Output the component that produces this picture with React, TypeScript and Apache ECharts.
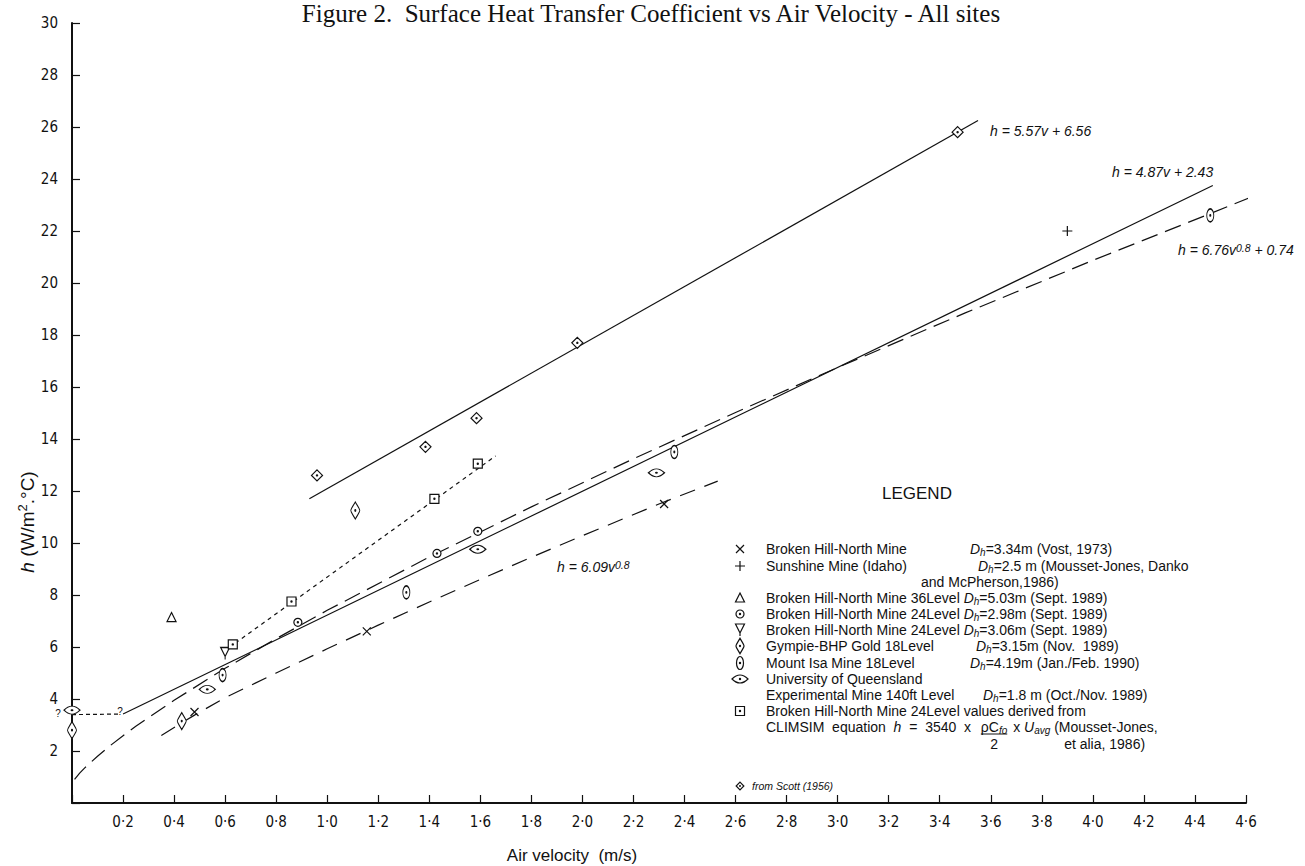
import React, { useEffect, useRef } from "react";
import * as echarts from "echarts";

// ---------------- data ----------------
const X_MIN = 0;
const X_MAX = 4.6;
const X_STEP = 0.2;
const Y_MIN = 0;
const Y_MAX = 30;
const Y_STEP = 2;

// measured points [air velocity m/s, h W/m2.C]
const brokenHillVost = [[0.48, 3.5], [1.155, 6.6], [2.32, 11.5]];
const sunshineMine = [[3.9, 22.0]];
const brokenHill36 = [[0.39, 7.15]];
const brokenHill24a = [[0.885, 6.95], [1.43, 9.6], [1.59, 10.45]];
const brokenHill24b = [[0.6, 5.75]];
const gympie = [[0.0, 2.8], [0.43, 3.15], [1.11, 11.25]];
const mountIsa = [[0.59, 4.92], [1.31, 8.1], [2.36, 13.5], [4.46, 22.6]];
const uqMine = [[0.0, 3.57], [0.53, 4.37], [1.59, 9.76], [2.29, 12.7]];
const climsim = [[0.63, 6.1], [0.86, 7.75], [1.42, 11.7], [1.59, 13.05]];
const scott = [[0.96, 12.6], [1.385, 13.7], [1.585, 14.8], [1.98, 17.7], [3.47, 25.8]];

// fitted lines
const fitScott = [[0.93, 11.7], [3.55, 26.25]]; // h = 5.57v + 6.56
const fitAll = [[0.2, 3.42], [4.47, 23.75]]; // h = 4.87v + 2.43
const powerFitA = [
  [0.01, 0.91], [0.03, 1.15], [0.05, 1.35], [0.1, 1.8], [0.15, 2.21], [0.2, 2.59],
  [0.25, 2.95], [0.3, 3.29], [0.4, 3.95], [0.6, 5.18], [0.8, 6.32], [1.0, 7.41],
  [1.4, 9.46], [1.8, 11.39], [2.2, 13.24], [2.6, 15.02], [3.0, 16.75], [3.5, 18.85],
  [4.0, 20.87], [4.45, 22.63], [4.74, 23.78],
]; // h = 6.76v^0.8 + 0.74
const powerFitB = [
  [0.35, 2.6], [0.48, 3.38], [0.6, 4.05], [0.8, 5.0], [1.0, 5.93], [1.2, 6.84],
  [1.4, 7.73], [1.6, 8.6], [1.8, 9.45], [2.0, 10.28], [2.3, 11.5], [2.53, 12.38],
]; // h = 6.09v^0.8
const climsimFit = [[0.64, 6.15], [1.66, 13.35]];
const lowVelocityLink = [[0.0, 3.4], [0.19, 3.42]];

// ---------------- symbols ----------------
const DOT = "M-0.6,0A0.6,0.6,0,1,0,0.6,0A0.6,0.6,0,1,0,-0.6,0Z";
const SYMBOL_PATHS: Record<string, string> = {
  cross: "M-4,-4L4,4M4,-4L-4,4",
  plus: "M-5,0L5,0M0,-5L0,5",
  triUp: "M0,-5L4.5,4L-4.5,4Z",
  circDot: "M-4,0A4,4,0,1,0,4,0A4,4,0,1,0,-4,0Z" + DOT,
  triDown: "M-4.5,-5L4.5,-5L0,4ZM0,4L0,7",
  gympie:
    "M0,-8.5C2.5,-4,4.5,-1.5,4.5,0C4.5,1.5,2.5,4,0,8.5C-2.5,4,-4.5,1.5,-4.5,0C-4.5,-1.5,-2.5,-4,0,-8.5Z" + DOT,
  isa: "M-3.5,0A3.5,6.5,0,1,0,3.5,0A3.5,6.5,0,1,0,-3.5,0Z" + DOT,
  uq: "M-8,0C-5,-3,-2,-4,0,-4C2,-4,5,-3,8,0C5,3,2,4,0,4C-2,4,-5,3,-8,0Z" + DOT,
  square: "M-4.5,-4.5L4.5,-4.5L4.5,4.5L-4.5,4.5Z" + DOT,
  scott: "M0,-5.5L5.5,0L0,5.5L-5.5,0Z" + DOT,
};
const SYMBOL_SIZES: Record<string, number[]> = {
  cross: [8, 8],
  plus: [10, 10],
  triUp: [9, 9],
  circDot: [8, 8],
  triDown: [9, 12],
  gympie: [9, 17],
  isa: [7, 13],
  uq: [16, 8],
  square: [9, 9],
  scott: [11, 11],
};

let shapesRegistered = false;
function registerShapes() {
  if (shapesRegistered) return;
  Object.keys(SYMBOL_PATHS).forEach((k) => {
    echarts.graphic.registerShape("sym_" + k, echarts.graphic.extendPath(SYMBOL_PATHS[k], {}) as any);
  });
  shapesRegistered = true;
}

// ---------------- fonts ----------------
const SANS = "'Liberation Sans', Arial, sans-serif";
const NARROW = "'Liberation Sans Narrow', 'DejaVu Sans Condensed', 'Liberation Sans', sans-serif";
const SERIF = "'Liberation Serif', 'Times New Roman', serif";
const INK = "#111";

function textWidth(text: string, font: string): number {
  const ctx = document.createElement("canvas").getContext("2d");
  if (!ctx) return text.length * 7;
  ctx.font = font;
  return ctx.measureText(text).width;
}

const RICH = {
  i: { fontFamily: SANS, fontSize: 14, fontStyle: "italic", fill: INK },
  s: { fontFamily: SANS, fontSize: 10, fontStyle: "italic", fill: INK, lineHeight: 6, verticalAlign: "bottom" },
  sup: { fontFamily: SANS, fontSize: 10.5, fontStyle: "italic", fill: INK, lineHeight: 6, verticalAlign: "top" },
};

function txt(x: number, y: number, text: string, extra: any = {}) {
  return {
    type: "text",
    x,
    y,
    silent: true,
    z: 10,
    style: {
      text,
      fill: INK,
      fontFamily: SANS,
      fontSize: 14,
      lineHeight: 16,
      align: "left",
      verticalAlign: "middle",
      rich: RICH,
      ...extra,
    },
  };
}

function sym(kind: string, x: number, y: number, scale = 1) {
  return {
    type: "sym_" + kind,
    x,
    y,
    scaleX: scale,
    scaleY: scale,
    silent: true,
    z: 10,
    style: { fill: "#fff", stroke: INK, lineWidth: 1.2 / scale },
  };
}

function buildGraphic() {
  const g: any[] = [];
  // title
  g.push(
    txt(651, 13, "Figure 2.  Surface Heat Transfer Coefficient vs Air Velocity - All sites", {
      fontFamily: SERIF,
      fontSize: 25,
      align: "center",
      lineHeight: 26,
    })
  );
  // axis names
  g.push({
    type: "text",
    x: 27,
    y: 522,
    rotation: Math.PI / 2,
    silent: true,
    style: {
      text: "{hi|h} (W/m{sp|2}.\u00b0C)",
      fill: INK,
      fontFamily: SANS,
      fontSize: 19,
      lineHeight: 22,
      align: "center",
      verticalAlign: "middle",
      rich: {
        hi: { fontFamily: SANS, fontSize: 19, fontStyle: "italic", fill: INK },
        sp: { fontFamily: SANS, fontSize: 13, fill: INK, lineHeight: 8, verticalAlign: "top" },
      },
    },
  });
  g.push(txt(572, 855, "Air velocity  (m/s)", { fontSize: 17, align: "center" }));

  // fit annotations
  g.push(txt(990, 131, "h = 5.57v + 6.56", { fontStyle: "italic", fontSize: 14 }));
  g.push(txt(1112, 172, "h = 4.87v + 2.43", { fontStyle: "italic", fontSize: 14 }));
  g.push(txt(1178, 250, "h = 6.76v{sup|0.8} + 0.74", { fontStyle: "italic", fontSize: 14 }));
  g.push(txt(557, 567, "h = 6.09v{sup|0.8}", { fontStyle: "italic", fontSize: 14 }));
  // question marks at the low-velocity end
  g.push(txt(58, 713, "?", { fontSize: 10, align: "center" }));
  g.push(txt(120, 711, "?", { fontSize: 10, align: "center" }));

  // legend
  g.push(txt(882, 493, "LEGEND", { fontSize: 17 }));
  const SX = 740;
  const NX = 766;
  const DX = 970;
  const rows = [549, 566, 582, 598, 614, 630, 646, 663, 679, 695, 711, 727, 743];
  const dh = "{i|D}{s|h}";
  g.push(sym("cross", SX, rows[0]));
  g.push(txt(NX, rows[0], "Broken Hill-North Mine"));
  g.push(txt(DX, rows[0], dh + "=3.34m (Vost, 1973)"));
  g.push(sym("plus", SX, rows[1]));
  g.push(txt(NX, rows[1], "Sunshine Mine (Idaho)"));
  g.push(txt(DX + 8, rows[1], dh + "=2.5 m (Mousset-Jones, Danko"));
  g.push(txt(921, rows[2], "and McPherson,1986)"));
  g.push(sym("triUp", SX, rows[3]));
  g.push(txt(NX, rows[3], "Broken Hill-North Mine 36Level " + dh + "=5.03m (Sept. 1989)"));
  g.push(sym("circDot", SX, rows[4]));
  g.push(txt(NX, rows[4], "Broken Hill-North Mine 24Level " + dh + "=2.98m (Sept. 1989)"));
  g.push(sym("triDown", SX, rows[5] - 1));
  g.push(txt(NX, rows[5], "Broken Hill-North Mine 24Level " + dh + "=3.06m (Sept. 1989)"));
  g.push(sym("gympie", SX, rows[6], 0.9));
  g.push(txt(NX, rows[6], "Gympie-BHP Gold 18Level"));
  g.push(txt(DX + 6, rows[6], dh + "=3.15m (Nov.  1989)"));
  g.push(sym("isa", SX, rows[7]));
  g.push(txt(NX, rows[7], "Mount Isa Mine 18Level"));
  g.push(txt(DX, rows[7], dh + "=4.19m (Jan./Feb. 1990)"));
  g.push(sym("uq", SX, rows[8]));
  g.push(txt(NX, rows[8], "University of Queensland"));
  g.push(txt(NX, rows[9], "Experimental Mine 140ft Level"));
  g.push(txt(DX + 13, rows[9], dh + "=1.8 m (Oct./Nov. 1989)"));
  g.push(sym("square", SX, rows[10]));
  g.push(txt(NX, rows[10], "Broken Hill-North Mine 24Level values derived from"));

  // CLIMSIM equation row with a fraction
  const F = "14px " + SANS;
  const FI = "italic 14px " + SANS;
  const F10I = "italic 10px " + SANS;
  const part1 = "CLIMSIM  equation  ";
  const part2 = "  =  3540  x  ";
  const w1 = textWidth(part1, F) + textWidth("h", FI) + textWidth(part2, F);
  g.push(txt(NX, rows[11], part1 + "{i|h}" + part2));
  const xf = NX + w1 + 2;
  const wRC = textWidth("\u03c1C", F);
  const wfo = textWidth("fo", F10I);
  g.push(txt(xf, rows[11], "\u03c1C{s|fo}"));
  g.push({
    type: "line",
    silent: true,
    z: 10,
    shape: { x1: xf, y1: rows[11] + 7, x2: xf + wRC + wfo, y2: rows[11] + 7 },
    style: { stroke: INK, lineWidth: 1 },
  });
  g.push(txt(xf + (wRC + wfo) / 2, rows[11] + 17, "2", { align: "center" }));
  const x3 = xf + wRC + wfo + 2;
  g.push(txt(x3, rows[11], " x {i|U}{s|avg} (Mousset-Jones,"));
  const wPre = textWidth(" x ", F) + textWidth("U", FI) + textWidth("avg", F10I) + textWidth(" ", F);
  g.push(txt(x3 + wPre + 10, rows[12] + 1, "et alia, 1986)"));

  // from Scott note
  g.push(sym("scott", SX, 786, 0.7));
  g.push(txt(752, 786, "from Scott (1956)", { fontStyle: "italic", fontSize: 10.5 }));
  return g;
}

function scatterSeries(name: string, data: number[][], kind: string) {
  return {
    type: "scatter",
    name,
    data,
    symbol: "path://" + SYMBOL_PATHS[kind],
    symbolSize: SYMBOL_SIZES[kind],
    itemStyle: { color: "#fff", borderColor: INK, borderWidth: 1.2, opacity: 1 },
    z: 5,
    silent: true,
    clip: false,
  };
}

function lineSeries(name: string, data: number[][], dash: any) {
  return {
    type: "line",
    name,
    data,
    showSymbol: false,
    symbol: "none",
    smooth: false,
    clip: false,
    z: 3,
    silent: true,
    lineStyle: { color: INK, width: 1.2, type: dash },
  };
}

export default function App() {
  const ref = useRef<HTMLDivElement>(null);
  useEffect(() => {
    if (!ref.current) return;
    registerShapes();
    const chart = echarts.init(ref.current, null, { renderer: "svg" });
    const option: any = {
      animation: false,
      backgroundColor: "#fff",
      grid: { left: 72, right: 59, top: 23, bottom: 63, containLabel: false, outerBoundsMode: "none" },
      xAxis: {
        type: "value",
        min: X_MIN,
        max: X_MAX,
        interval: X_STEP,
        splitLine: { show: false },
        axisLine: { show: true, onZero: false, lineStyle: { color: INK, width: 2 } },
        axisTick: { show: true, inside: true, length: 8, lineStyle: { color: INK, width: 1.2 } },
        axisLabel: {
          margin: 11,
          color: INK,
          fontFamily: NARROW,
          fontSize: 15,
          showMinLabel: true,
          showMaxLabel: true,
          formatter: (v: number) => (Math.abs(v) < 1e-9 ? "" : v.toFixed(1).replace(".", "\u00b7")),
        },
      },
      yAxis: {
        type: "value",
        min: Y_MIN,
        max: Y_MAX,
        interval: Y_STEP,
        splitLine: { show: false },
        axisLine: { show: true, onZero: false, lineStyle: { color: INK, width: 2 } },
        axisTick: { show: true, inside: true, length: 8, lineStyle: { color: INK, width: 1.2 } },
        axisLabel: {
          margin: 14,
          color: INK,
          fontFamily: NARROW,
          fontSize: 15,
          formatter: (v: number) => (v === 0 ? "" : String(v)),
        },
      },
      series: [
        lineSeries("h = 5.57v + 6.56", fitScott, "solid"),
        lineSeries("h = 4.87v + 2.43", fitAll, "solid"),
        lineSeries("h = 6.76v^0.8 + 0.74", powerFitA, [17, 8]),
        lineSeries("h = 6.09v^0.8", powerFitB, [16, 10]),
        lineSeries("CLIMSIM", climsimFit, [4, 4]),
        lineSeries("low velocity", lowVelocityLink, [4, 3]),
        scatterSeries("Broken Hill-North Mine", brokenHillVost, "cross"),
        scatterSeries("Sunshine Mine (Idaho)", sunshineMine, "plus"),
        scatterSeries("Broken Hill-North Mine 36Level", brokenHill36, "triUp"),
        scatterSeries("Broken Hill-North Mine 24Level 2.98m", brokenHill24a, "circDot"),
        scatterSeries("Broken Hill-North Mine 24Level 3.06m", brokenHill24b, "triDown"),
        scatterSeries("Gympie-BHP Gold 18Level", gympie, "gympie"),
        scatterSeries("Mount Isa Mine 18Level", mountIsa, "isa"),
        scatterSeries("University of Queensland", uqMine, "uq"),
        scatterSeries("Broken Hill-North Mine 24Level CLIMSIM", climsim, "square"),
        scatterSeries("from Scott (1956)", scott, "scott"),
      ],
      graphic: buildGraphic(),
    };
    chart.setOption(option);
    return () => chart.dispose();
  }, []);
  return (
    <div
      ref={ref}
      style={{ position: "fixed", left: 0, top: 0, width: 1305, height: 866, background: "#fff" }}
    />
  );
}
